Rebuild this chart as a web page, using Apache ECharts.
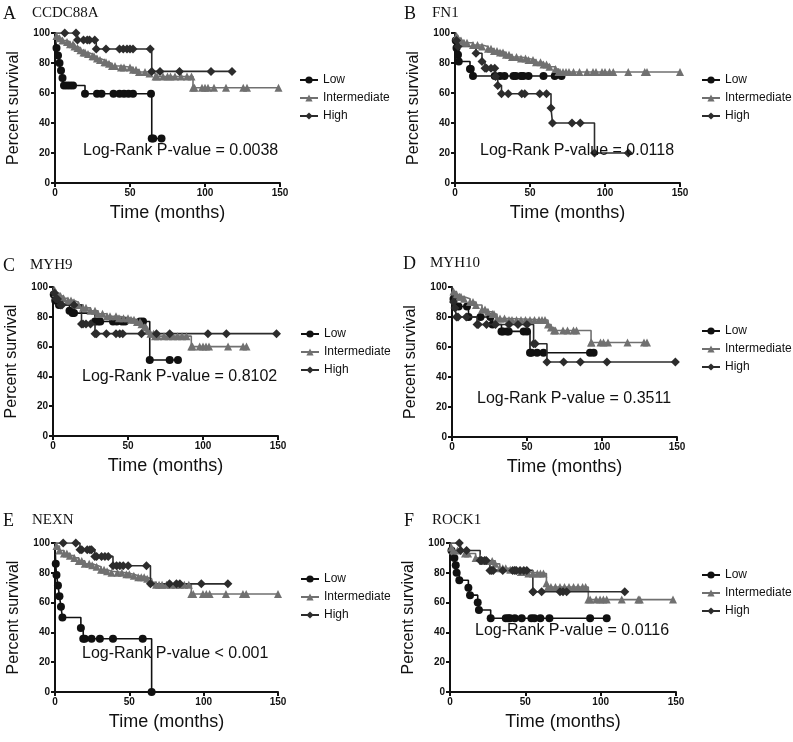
<!DOCTYPE html>
<html><head><meta charset="utf-8">
<script src="https://cdn.jsdelivr.net/npm/echarts@6/dist/echarts.min.js"></script>
<style>html,body{margin:0;padding:0;background:#fff}#c{width:793px;height:742px}</style>
</head><body><div id="c"></div>
<script>
// ---------- Data (Kaplan-Meier step points [time, % survival] and censor times) ----------
const groups = ['Low', 'Intermediate', 'High'];
const xTicks = [0, 50, 100, 150];
const yTicks = [0, 20, 40, 60, 80, 100];

// A CCDC88A
const A_low_steps = [[0,100],[1,90],[2,85],[3,80],[4,75],[5,70],[6,65],[20,59.5],[64.5,29.7]];
const A_low_cens = [8,10,12,28,31,39,43,46,49,52,64,65.5,71];
const A_int_steps = [[0,100],[1,98],[3,96.5],[5,95],[8,94],[10,92.5],[13,91],[15,90],[17,88.5],[19,87],[22,86],[25,84.5],[28,83],[30,82],[33,80.5],[36,79.5],[38,78],[44,77],[52,75.5],[56,74],[63,73],[67,71],[92,63.5]];
const A_int_cens = [12,20,26,34,40,46,50,54,60,68,72,75,77,80,84,88,91,93,98,100,102,106,114,125.5,128,149];
const A_high_steps = [[0,100],[15,95.3],[27.5,89.3],[64.5,74.4]];
const A_high_cens = [6.5,14,19,21.5,23,26.5,34,43,45.5,48,50,52,63.5,70,83,104,118];

// B FN1
const B_low_steps = [[0,100],[0.5,95],[1,90],[2,85.5],[2.5,81],[10,76],[12,71.3]];
const B_low_cens = [10.5,26.5,30,33,39,40.5,44,45.5,49,59,66.5,71];
const B_int_steps = [[0,100],[1,98],[2,96.5],[4,95],[6,93.5],[12,92],[18,91],[22,89.5],[26,88],[30,87],[34,85.5],[38,84],[44,83],[49,82],[54,80.5],[59,79],[63,77.5],[67,76],[69,74]];
const B_int_cens = [8,15,24,28,32,36,41,47,52,57,61,70,72,74,76,79,83,88,92,94,98,100,103,105.5,115.5,126.5,128,150];
const B_high_steps = [[0,100],[1,95],[2,91],[14,86.5],[18,81],[20,76.5],[27,71],[28.5,65],[31,59.5],[64,50],[65,40],[93,20]];
const B_high_cens = [21,24,26.5,35.5,44.5,46.5,56.5,61,78,83.5,115.5];

// C MYH9
const C_low_steps = [[0,100],[0.5,95],[1.5,91],[4,88],[11,84],[13,82.5],[28,76.8],[64.5,51]];
const C_low_cens = [14,30,31.5,40,42.5,46,48,58,60,77.8,83.3];
const C_int_steps = [[0,100],[1,98],[2,96],[4,94],[7,92.5],[10,91],[14,89.7],[17,88],[20,86],[25,84],[30,82],[36,80.3],[44,79],[52,78],[56,76.5],[59,75],[61,73],[63,70.5],[65,68.7],[68,67],[92.2,60]];
const C_int_cens = [5,12,22,28,33,38,42,47,50,54,58,62,67,70,74,77,80,83,86,89,93,97.8,100,102,104,116.7,126.7,129];
const C_high_steps = [[0,100],[1,96],[2,92],[5,88],[19,75.2],[28,68.7]];
const C_high_cens = [3,6,14,20,22,25,29,35.6,42,44.5,46.5,59,69,77.8,103.3,115.6,149];

// D MYH10
const D_low_steps = [[0,100],[1,92],[2,87],[11,80],[27,75],[33,70.4],[52,56.2]];
const D_low_cens = [4.4,10,19,25.6,34,36.7,37.8,47.8,50,53,56.7,61,92,94.4];
const D_int_steps = [[0,100],[1,97],[3,95],[5,93.5],[8,92.2],[12,90],[16,88],[20,85],[24,83.5],[27,82],[30,79],[38,78],[64,75],[66,73],[68,71],[92.7,63]];
const D_int_cens = [6,14,22,28,32,35,40,43,46,49,52,55,58,60,62,69,74,77,81,83,93,99,101,104,117,128,130];
const D_high_steps = [[0,100],[1,90],[2,86],[3,80],[16.7,75],[54.4,62.2],[63.3,50]];
const D_high_cens = [4,9.5,17.5,23,29,38,44,50,55.5,74.4,85.6,103.3,148.9];

// E NEXN
const E_low_steps = [[0,100],[0.5,86],[1,78.6],[2,71.5],[3,64.3],[4,57.2],[5,50],[17.4,42.9],[19,35.7],[65,0]];
const E_low_cens = [20,24.6,30.2,39,59];
const E_int_steps = [[0,100],[1,98],[3,95],[6,93],[10,91.5],[13,90],[16,88],[20,86],[25,85],[28,84],[31,82],[35,81],[38,80],[48,79],[53,78],[56,77],[62,76],[65,73.7],[68,72],[91.7,65.8]];
const E_int_cens = [8,18,23,33,42,45,50,58,60,70,72,75,78,81,84,87,90,93,99.5,101.8,104,115,126.4,128.6,150];
const E_high_steps = [[0,100],[16.8,95.5],[26.8,91],[39,84.7],[64.2,72.6]];
const E_high_cens = [5.5,14,18,21.7,23.5,24.6,28,31.3,33.6,35.8,41.4,43.6,45.9,49.2,61.5,77,81.7,84,98.4,116.3];

// F ROCK1
const F_low_steps = [[0,100],[1,95],[2.9,90],[3.8,85],[4.4,80],[6.2,75],[12.2,70],[13.3,65],[18.4,60],[19.2,55],[27,49.5]];
const F_low_cens = [37,38.7,39.8,43,47.6,54,56,60,66,93,104];
const F_int_steps = [[0,100],[1,97],[2,95],[10,93],[17,90],[22,88],[30,86],[33,83],[40,82],[47,80.5],[52,79.5],[64,73],[65,70.5],[91.8,62]];
const F_int_cens = [5,12,20,25,28,35,37,43,50,55,58,60,62,67,70,73,76,79,82,85,88,90,93,97,99.6,101.8,104,114,125,126,148];
const F_high_steps = [[0,100],[7,95],[20,88.2],[26.5,81.6],[55,67.3]];
const F_high_cens = [6.2,11,21,23,24,27.6,28.7,35,41.6,43,44,46.5,49,51,55.3,60.8,73,75,77.4,116];

const letters = ['A','B','C','D','E','F'];
const genes = ['CCDC88A','FN1','MYH9','MYH10','NEXN','ROCK1'];
const pTexts = ['Log-Rank P-value = 0.0038','Log-Rank P-value = 0.0118','Log-Rank P-value = 0.8102','Log-Rank P-value = 0.3511','Log-Rank P-value < 0.001','Log-Rank P-value = 0.0116'];

// ---------- Layout ----------
const panelData = [
  [[A_low_steps,A_low_cens],[A_int_steps,A_int_cens],[A_high_steps,A_high_cens]],
  [[B_low_steps,B_low_cens],[B_int_steps,B_int_cens],[B_high_steps,B_high_cens]],
  [[C_low_steps,C_low_cens],[C_int_steps,C_int_cens],[C_high_steps,C_high_cens]],
  [[D_low_steps,D_low_cens],[D_int_steps,D_int_cens],[D_high_steps,D_high_cens]],
  [[E_low_steps,E_low_cens],[E_int_steps,E_int_cens],[E_high_steps,E_high_cens]],
  [[F_low_steps,F_low_cens],[F_int_steps,F_int_cens],[F_high_steps,F_high_cens]]
];
const gridPos = [
  {left:55, top:33, width:225, height:150},
  {left:455, top:33, width:225, height:150},
  {left:53, top:287, width:225, height:149},
  {left:452, top:287, width:225, height:150},
  {left:55, top:543, width:223, height:149},
  {left:450, top:543, width:226, height:149}
];
const legendPos = [[294,69],[696,69],[295,323],[696,320],[295,568],[696,564]];
const titlePos = [[3,15,32],[404,15,432],[3,267,30],[403,265,430],[3,522,32],[404,522,432]];
const pPos = [[83,152],[480,152],[82,378],[477,400],[82,655],[475,632]];

const colors = ['#111111','#707070','#2c2c2c'];
const symbols = ['circle','triangle','diamond'];
const symSizes = [8,8,9];
const SANS = 'Liberation Sans, Arial, sans-serif';
const SERIF = 'Liberation Serif, Times New Roman, serif';

function survAt(steps, t){
  let v = steps[0][1];
  for (const p of steps){ if (p[0] <= t) v = p[1]; }
  return v;
}

const grids=[], xAxes=[], yAxes=[], series=[], legends=[], graphics=[];
panelData.forEach((groupsData, i) => {
  grids.push(Object.assign({containLabel:false}, gridPos[i]));
  xAxes.push({
    type:'value', gridIndex:i, min:0, max:150, interval:50,
    name:'Time (months)', nameLocation:'middle', nameGap:21,
    nameTextStyle:{fontFamily:SANS, fontSize:18, color:'#111'},
    axisLine:{show:true, onZero:false, lineStyle:{color:'#111', width:2}},
    axisTick:{show:true, length:4, lineStyle:{color:'#111', width:2}},
    axisLabel:{fontFamily:SANS, fontSize:10, fontWeight:'bold', color:'#111', margin:5,
      formatter:v => xTicks.includes(v) ? String(v) : ''},
    splitLine:{show:false}
  });
  yAxes.push({
    type:'value', gridIndex:i, min:0, max:100, interval:20,
    name:'Percent survival', nameLocation:'middle', nameGap:33, nameRotate:90,
    nameTextStyle:{fontFamily:SANS, fontSize:16, color:'#111'},
    axisLine:{show:true, onZero:false, lineStyle:{color:'#111', width:2}},
    axisTick:{show:true, length:4, lineStyle:{color:'#111', width:2}},
    axisLabel:{fontFamily:SANS, fontSize:10, fontWeight:'bold', color:'#111', margin:5,
      formatter:v => yTicks.includes(v) ? String(v) : ''},
    splitLine:{show:false}
  });
  groupsData.forEach((gd, g) => {
    const steps = gd[0], cens = gd[1];
    const lastT = Math.max(steps[steps.length-1][0], cens.length ? Math.max(...cens) : 0);
    const lineData = steps.map(p => [p[0], p[1]]);
    lineData.push([lastT, steps[steps.length-1][1]]);
    series.push({
      type:'line', name:groups[g], xAxisIndex:i, yAxisIndex:i, step:'end',
      data:lineData, showSymbol:false, symbol:symbols[g], symbolSize:symSizes[g],
      lineStyle:{color:colors[g], width:1.6}, itemStyle:{color:colors[g]},
      animation:false, z:2+g, silent:true
    });
    const marks = steps.slice(1).map(p => [p[0], p[1]])
      .concat(cens.map(t => [t, survAt(steps, t)]));
    series.push({
      type:'scatter', name:groups[g], xAxisIndex:i, yAxisIndex:i,
      data:marks, symbol:symbols[g], symbolSize:symSizes[g],
      itemStyle:{color:colors[g], opacity:1}, animation:false, z:3+g, silent:true
    });
  });
  legends.push({
    orient:'vertical', left:legendPos[i][0], top:legendPos[i][1],
    data:groups, itemWidth:18, itemHeight:9, itemGap:6, selectedMode:false,
    textStyle:{fontFamily:SANS, fontSize:12, color:'#111'}
  });
  graphics.push({type:'text', left:titlePos[i][0], top:titlePos[i][1]-10,
    style:{text:letters[i], font:'18px ' + SERIF, fill:'#111'}});
  graphics.push({type:'text', left:titlePos[i][2], top:titlePos[i][1]-9,
    style:{text:genes[i], font:'15px ' + SERIF, fill:'#111'}});
  graphics.push({type:'text', left:pPos[i][0], top:pPos[i][1]-9,
    style:{text:pTexts[i], font:'16px ' + SANS, fill:'#111'}, z:10});
});

const chart = echarts.init(document.getElementById('c'), null, {renderer:'canvas'});
chart.setOption({
  backgroundColor:'#fff', animation:false,
  grid:grids, xAxis:xAxes, yAxis:yAxes, series:series, legend:legends, graphic:graphics
});
</script></body></html>
